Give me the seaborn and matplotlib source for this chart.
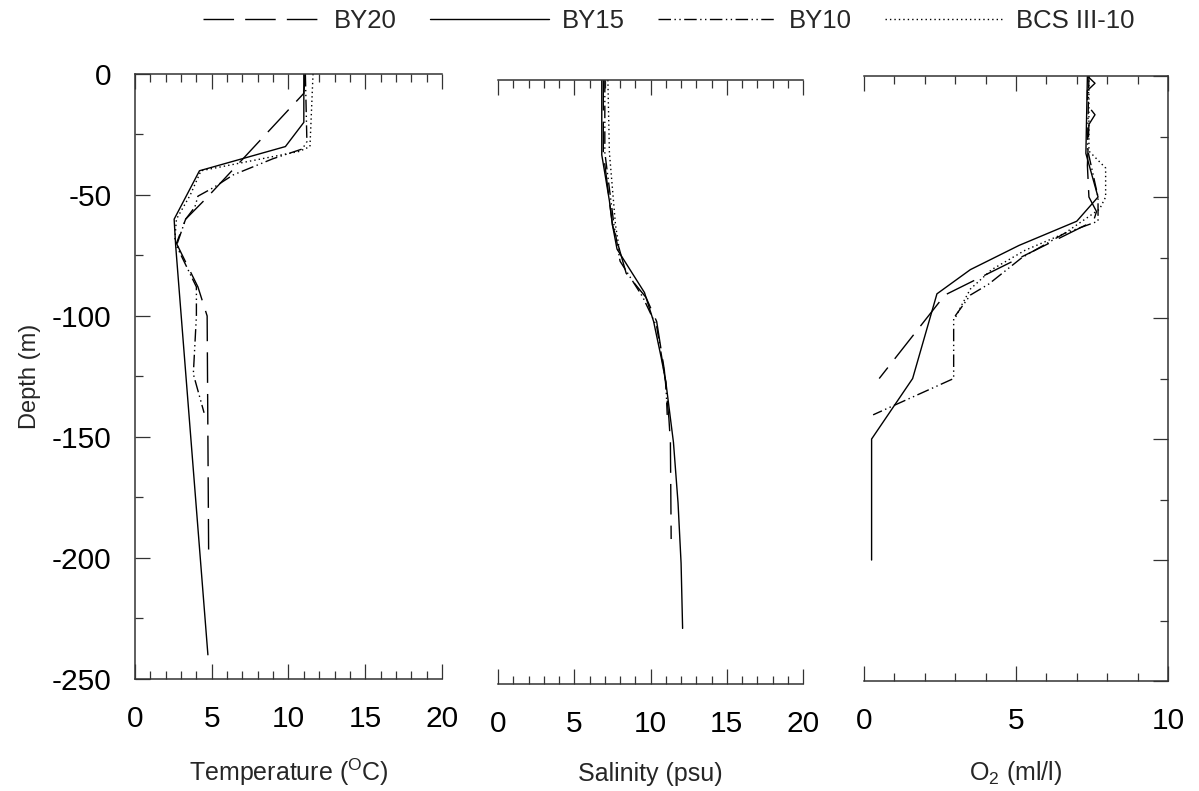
import matplotlib
matplotlib.use("Agg")
import matplotlib.pyplot as plt
from matplotlib.ticker import MultipleLocator
from matplotlib.lines import Line2D
import seaborn as sns
import pandas as pd

# ---------------- data ----------------
stations = ["BY20", "BY15", "BY10", "BCS III-10"]

# Temperature (degC) vs depth (m)
temp_BY20_depth = [0, -8, -51, -60, -70, -88, -100, -200]
temp_BY20 = [11.1, 11.0, 4.7, 3.3, 2.7, 4.1, 4.7, 4.8]
temp_BY15_depth = [0, -20, -30, -40, -60, -71, -240]
temp_BY15 = [11.0, 11.0, 9.8, 4.2, 2.55, 2.65, 4.75]
temp_BY10_depth = [0, -28, -31, -35, -41.7, -47, -50.5, -55, -60, -71, -88, -100, -124, -140]
temp_BY10 = [11.1, 11.2, 10.9, 9.0, 6.4, 5.1, 4.1, 3.9, 3.3, 2.7, 4.0, 4.0, 3.8, 4.5]
temp_BCS_depth = [0, -30, -32, -40, -50, -60, -68, -74]
temp_BCS = [11.6, 11.4, 10.7, 4.3, 3.6, 2.7, 2.6, 2.95]

# Salinity (psu) vs depth (m)
sal_BY20_depth = [0, -30, -50, -60, -80, -90, -100, -120, -140, -150, -190]
sal_BY20 = [6.9, 6.9, 7.3, 7.5, 8.4, 9.7, 10.4, 10.9, 11.2, 11.3, 11.35]
sal_BY15_depth = [0, -31, -50, -60, -70, -80, -88, -100, -115, -125, -150, -175, -200, -227]
sal_BY15 = [6.8, 6.8, 7.3, 7.5, 7.8, 8.8, 9.6, 10.2, 10.7, 11.0, 11.5, 11.8, 12.0, 12.1]
sal_BY10_depth = [0, -30, -50, -60, -75, -90, -102, -125, -140]
sal_BY10 = [7.0, 7.0, 7.4, 7.6, 8.0, 9.5, 10.4, 11.0, 11.1]
sal_BCS_depth = [0, -30, -45, -60, -72]
sal_BCS = [7.2, 7.3, 7.5, 7.7, 8.0]

# Oxygen (ml/l) vs depth (m)
o2_BY20_depth = [0, -3, -6, -12, -16, -20, -37, -50, -56, -60, -90.5, -125]
o2_BY20 = [7.35, 7.6, 7.35, 7.35, 7.6, 7.4, 7.35, 7.4, 7.65, 7.55, 2.66, 0.5]
o2_BY15_depth = [0, -32, -50, -60, -70, -80, -90, -125, -150, -200]
o2_BY15 = [7.35, 7.3, 7.7, 7.0, 5.1, 3.5, 2.4, 1.6, 0.25, 0.25]
o2_BY10_depth = [0, -30, -50, -60, -65, -75, -86, -90.5, -100, -125, -140]
o2_BY10 = [7.4, 7.35, 7.7, 7.7, 6.6, 5.2, 4.1, 3.5, 2.95, 2.95, 0.3]
o2_BCS_depth = [0, -31, -38, -50, -55, -65, -72, -80, -88, -95, -100]
o2_BCS = [7.4, 7.4, 7.95, 7.95, 7.75, 6.6, 5.3, 4.2, 3.5, 3.2, 3.0]

temp_series = {"BY20": (temp_BY20, temp_BY20_depth), "BY15": (temp_BY15, temp_BY15_depth),
               "BY10": (temp_BY10, temp_BY10_depth), "BCS III-10": (temp_BCS, temp_BCS_depth)}
sal_series = {"BY20": (sal_BY20, sal_BY20_depth), "BY15": (sal_BY15, sal_BY15_depth),
              "BY10": (sal_BY10, sal_BY10_depth), "BCS III-10": (sal_BCS, sal_BCS_depth)}
o2_series = {"BY20": (o2_BY20, o2_BY20_depth), "BY15": (o2_BY15, o2_BY15_depth),
             "BY10": (o2_BY10, o2_BY10_depth), "BCS III-10": (o2_BCS, o2_BCS_depth)}

styles = {
    "BY20": (0, (22, 8)),
    "BY15": "-",
    "BY10": (0, (9, 2.5, 1, 2.5, 1, 2.5)),
    "BCS III-10": (0, (1, 2.2)),
}

# ---------------- figure ----------------
sns.set_theme(style="white")
plt.rcParams["font.family"] = ["Liberation Sans", "DejaVu Sans"]
plt.rcParams["mathtext.default"] = "regular"
plt.rcParams["axes.unicode_minus"] = False

fig = plt.figure(figsize=(11.99, 7.91), dpi=100)
ax1 = fig.add_axes([0.1126, 0.1416, 0.2560, 0.7649])
ax2 = fig.add_axes([0.4154, 0.1353, 0.2544, 0.7636])
ax3 = fig.add_axes([0.7206, 0.1390, 0.2535, 0.7649])

TICK_FS = 21.5
LABEL_FS = 18


def draw(ax, series):
    for st in stations:
        vals, dep = series[st]
        df = pd.DataFrame({"value": vals, "depth": dep})
        sns.lineplot(data=df, x="value", y="depth", ax=ax, sort=False, estimator=None,
                     orient="y", color="black", linewidth=1.0, linestyle=styles[st])


draw(ax1, temp_series)
draw(ax2, sal_series)
draw(ax3, o2_series)

for ax in (ax1, ax2, ax3):
    ax.set_ylim(-250, 0)
    ax.set_xlabel("")
    ax.set_ylabel("")
    ax.yaxis.set_major_locator(MultipleLocator(50))
    ax.yaxis.set_minor_locator(MultipleLocator(25))
    ax.tick_params(which="both", direction="in", top=True, bottom=True,
                   width=0.9, color="#333333", labelsize=TICK_FS, labelcolor="black")
    ax.tick_params(which="major", length=11)
    ax.tick_params(which="minor", length=6)
    ax.tick_params(axis="x", pad=19)
    for sp in ax.spines.values():
        sp.set_linewidth(1.1)
        sp.set_color("#333333")
    ax.set_facecolor("white")

for ax in (ax1, ax2):
    ax.set_xlim(0, 20)
    ax.xaxis.set_major_locator(MultipleLocator(5))
    ax.xaxis.set_minor_locator(MultipleLocator(1))
ax3.set_xlim(0, 10)
ax3.xaxis.set_major_locator(MultipleLocator(5))
ax3.xaxis.set_minor_locator(MultipleLocator(1))

# panel 1: left axis
ax1.spines["right"].set_visible(False)
ax1.tick_params(axis="y", which="both", left=True, right=False, labelleft=True, pad=17)
ax1.set_ylabel("Depth (m)", fontsize=17, labelpad=8)

# panel 2: no y axis
ax2.spines["left"].set_visible(False)
ax2.spines["right"].set_visible(False)
ax2.tick_params(axis="y", which="both", left=False, right=False, labelleft=False)

# panel 3: right axis ticks
ax3.spines["left"].set_visible(False)
ax3.tick_params(axis="y", which="both", left=False, right=True, labelleft=False, labelright=False)

ax1.set_xlabel("Temperature ($^{O}$C)", fontsize=LABEL_FS, labelpad=17)
ax2.set_xlabel("Salinity (psu)", fontsize=LABEL_FS, labelpad=17)
ax3.set_xlabel("O$_{2}$ (ml/l)", fontsize=LABEL_FS, labelpad=17)

handles = [Line2D([], [], color="black", linewidth=1.0, linestyle=styles[s]) for s in stations]
fig.legend(handles, stations, loc="upper center", bbox_to_anchor=(0.558, 1.008), ncol=4,
           frameon=False, fontsize=18.5, handlelength=4.6, handletextpad=0.5,
           columnspacing=1.3, borderaxespad=0.2)

fig.savefig("out.png", dpi=100, facecolor="white")
